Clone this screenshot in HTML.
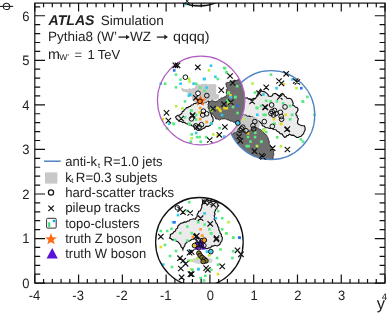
<!DOCTYPE html>
<html><head><meta charset="utf-8">
<style>
html,body{margin:0;padding:0;background:#fff;width:388px;height:313px;overflow:hidden}
svg{display:block;will-change:transform}
text{font-family:"Liberation Sans",sans-serif;fill:#222;text-rendering:geometricPrecision}
</style></head><body>
<svg width="388" height="313" viewBox="0 0 388 313">
<defs>
<clipPath id="pa"><rect x="34.8" y="3.1" width="350.2" height="280"/></clipPath>
<clipPath id="cpur"><ellipse cx="201.1" cy="100.5" rx="43.7" ry="44.4" /></clipPath>
<clipPath id="cblu"><ellipse cx="271.0" cy="115.1" rx="43.8" ry="44.5" /></clipPath>
<mask id="mnotpur"><rect x="0" y="0" width="388" height="313" fill="#fff"/><ellipse cx="201.1" cy="100.5" rx="43.7" ry="44.4" fill="#000"/></mask>
</defs>
<g clip-path="url(#pa)">
<path d="M175.6,116.9L177.6,115.3L179.3,115.2L180.7,114.3L181.9,113.3L182.3,111.7L183.7,111.0L184.3,109.6L185.7,108.9L186.4,107.6L187.9,107.6L189.0,106.6L190.5,106.2L191.5,105.0L193.1,104.7L194.1,103.5L195.7,103.5L197.0,102.5L198.5,103.2L200.4,103.0L202.0,104.0L203.8,102.7L206.0,102.4L206.9,101.2L208.3,100.8L208.9,102.6L208.4,104.6L209.1,106.4L208.8,108.4L210.3,110.0L210.0,112.0L211.3,113.8L211.5,116.0L212.8,117.3L213.1,119.1L213.1,120.8L212.3,122.3L211.5,124.2L210.0,125.5L208.1,126.4L206.0,126.3L204.6,127.9L202.7,128.7L200.9,129.9L198.8,130.3L196.9,130.0L195.6,128.7L194.4,127.8L194.0,126.3L192.1,126.0L190.8,124.7L189.1,124.8L187.6,123.9L185.8,123.5L184.4,122.3L182.7,122.5L181.2,121.5L179.4,121.2L178.0,120.0L176.4,118.8Z" fill="#ebebeb" stroke="#111" stroke-width="1.15"/>
<path d="M202.6,201.4L204.2,200.1L206.2,199.9L207.8,199.7L209.1,200.8L210.7,200.5L212.8,201.5L215.1,201.4L216.2,202.6L217.8,203.2L217.7,204.7L218.7,205.8L217.3,206.8L216.9,208.5L215.6,209.6L215.1,211.2L214.4,212.6L215.1,214.3L214.2,215.7L214.6,217.5L214.2,219.3L215.5,220.9L216.0,222.9L217.3,224.4L217.8,226.4L218.8,227.7L218.7,229.5L219.6,230.9L220.1,232.9L221.4,234.5L221.3,236.1L222.4,237.4L222.3,239.0L221.8,241.0L220.5,242.6L219.9,244.1L218.7,245.2L217.0,246.0L215.0,245.3L213.3,246.1L211.6,246.1L210.6,247.8L208.9,247.9L207.0,248.7L204.9,248.1L203.0,249.0L202.4,247.1L200.4,246.2L200.1,244.1L198.1,243.2L197.8,241.2L196.3,239.9L195.1,238.9L193.6,239.0L191.6,239.5L190.1,240.8L188.1,241.4L186.5,242.6L185.1,244.1L184.7,246.1L183.4,247.7L182.9,249.7L182.4,248.1L181.1,247.0L180.6,245.0L179.3,243.4L177.8,241.7L175.7,240.8L174.1,239.9L172.2,239.9L171.1,238.6L169.5,238.1L170.3,236.4L170.4,234.5L172.6,233.6L174.0,231.8L175.5,230.9L176.0,229.1L177.5,228.2L177.9,226.1L179.3,224.6L180.9,223.3L182.9,222.9L184.2,221.9L186.1,222.1L187.4,221.1L189.1,221.0L190.2,219.5L191.9,219.3L193.7,218.8L195.4,219.3L196.0,217.7L197.2,216.6L197.1,214.7L198.1,213.0L198.6,211.5L200.3,210.9L200.8,209.4L201.7,207.7L201.7,205.8L202.5,203.7Z" fill="#ebebeb" stroke="#111" stroke-width="1.15"/>
<path d="M238.0,98.0L239.9,97.6L241.8,98.5L243.8,97.6L245.7,98.0L247.3,97.9L248.7,99.1L250.3,99.1L252.1,99.3L253.7,98.3L255.5,98.6L256.5,96.8L258.0,95.5L258.0,93.3L259.1,91.3L260.6,89.3L262.2,91.3L264.7,91.9L266.8,93.4L268.0,94.5L268.4,96.0L270.9,96.5L272.4,95.6L273.0,93.9L275.6,93.4L277.6,95.0L280.0,96.0L280.7,94.4L282.2,93.5L283.8,94.5L284.6,96.2L286.1,97.0L287.0,98.5L288.9,98.3L290.8,98.8L292.1,100.2L292.7,102.0L293.2,103.6L292.7,105.2L294.3,105.7L295.3,107.1L296.7,107.4L297.8,108.4L298.0,110.1L297.2,111.6L295.9,113.5L296.1,115.0L297.2,116.1L297.3,117.6L298.4,118.6L297.8,120.5L297.4,122.9L298.5,124.3L300.2,125.0L302.2,125.7L304.4,125.7L305.1,127.9L305.1,130.0L304.0,132.1L303.6,133.8L302.3,134.9L301.1,136.2L299.5,136.7L298.2,137.5L296.7,137.4L294.6,136.0L293.3,135.1L291.7,135.3L289.3,134.2L288.3,135.4L286.8,135.6L286.0,136.9L284.5,137.4L282.9,135.4L282.0,133.9L280.1,133.6L279.1,132.2L277.2,131.4L275.9,129.7L273.8,129.5L272.0,128.4L269.7,128.5L267.6,127.8L265.6,127.6L264.2,126.3L262.4,125.7L261.8,123.9L260.4,122.5L259.0,121.2L257.3,120.6L256.0,119.2L254.1,118.6L253.1,117.2L251.5,116.7L249.0,116.1L247.1,116.3L245.5,115.1L243.6,115.2L241.9,114.2L239.8,114.8L238.0,114.0L237.6,112.2L238.4,110.4L237.5,108.7L238.5,106.9L237.6,105.1L238.4,103.3L237.5,101.6L238.4,99.8Z" fill="#ebebeb" stroke="#111" stroke-width="1.15" mask="url(#mnotpur)"/>
<ellipse cx="199.4" cy="-38.5" rx="43.8" ry="44.5" fill="#d6d6d6" stroke="none"/>
<path d="M181.0,88.5L182.7,88.1L184.3,89.3L186.0,89.0L187.8,89.3L189.5,88.1L191.3,89.1L193.0,87.9L194.8,88.2L195.1,86.2L196.2,84.5L198.1,83.9L200.1,84.7L202.0,83.7L204.0,84.0L206.0,83.7L208.0,84.6L210.0,83.9L212.0,84.3L214.1,84.0L216.0,84.8L216.6,86.6L215.8,88.4L216.7,90.1L215.9,91.9L216.5,93.7L217.8,94.6L219.3,94.4L218.9,96.6L219.3,98.8L217.4,98.8L215.8,100.2L213.7,99.6L212.0,100.5L210.1,100.2L208.3,100.8L206.9,101.3L206.0,102.4L203.8,102.7L202.0,104.0L200.1,103.1L198.0,103.2L196.4,102.3L194.5,102.5L193.7,100.6L192.0,99.3L192.0,97.6L191.0,96.2L189.7,94.4L187.9,93.2L186.0,92.1L183.8,92.1L181.7,90.5Z" fill="#c8c8c8"/>
<g mask="url(#mnotpur)"><path d="M236.0,113.0L238.0,113.2L239.7,114.5L241.9,114.1L243.6,115.2L245.3,115.3L246.7,116.6L248.5,116.5L249.9,117.2L251.5,116.4L253.0,117.0L254.9,117.2L256.6,118.3L258.0,119.3L258.4,121.0L259.5,122.3L259.5,124.0L259.9,125.6L258.9,127.2L259.5,128.8L258.2,128.8L256.7,128.6L255.6,127.6L254.5,128.7L253.0,128.8L251.7,130.3L249.8,130.8L248.5,132.2L246.6,132.7L244.5,132.2L242.8,130.8L240.9,131.7L238.9,131.4L237.5,132.6L235.7,132.7L234.3,133.6L232.6,133.2L231.2,134.0L229.3,134.2L227.9,135.7L226.0,136.0L225.7,134.2L226.8,132.5L226.1,130.6L227.4,128.9L226.6,127.1L227.8,125.4L227.0,123.5L228.4,121.8L228.0,120.0L229.6,119.2L230.3,117.3L232.3,116.8L233.0,115.0L235.0,114.5Z" fill="#c8c8c8" clip-path="url(#cblu)"/></g>
<path d="M192.3,259.0L197.0,257.2L203.0,257.5L209.0,257.8L213.0,259.5L212.0,262.5L206.0,263.8L198.0,264.0L193.0,262.5Z" fill="#d4d4d4"/>
<path d="M225.7,83.6L227.1,82.5L228.8,82.4L230.6,81.3L232.7,81.1L234.3,80.2L236.2,80.6L237.8,79.8L239.4,79.7L240.4,78.1L242.0,78.0L243.8,77.9L245.3,79.0L247.1,78.5L248.6,79.8L250.4,79.3L252.0,80.0L252.6,81.8L251.5,83.6L252.5,85.4L251.6,87.2L252.4,89.0L251.5,90.8L252.4,92.6L251.6,94.4L252.4,96.2L251.6,98.0L252.5,99.8L251.5,101.6L252.6,103.4L251.5,105.2L252.5,107.0L251.5,108.8L252.5,110.6L251.5,112.4L252.4,114.2L251.4,116.0L252.6,117.8L251.4,119.6L252.5,121.4L251.6,123.2L252.0,125.0L250.4,123.9L248.4,123.8L247.0,122.3L244.8,122.4L243.5,120.7L241.5,120.5L239.3,120.5L237.4,121.8L234.8,122.4L233.4,122.2L232.3,121.2L230.2,121.0L228.4,119.9L226.9,119.8L225.8,118.8L223.2,118.9L221.1,119.0L219.4,120.1L217.6,119.1L215.6,118.9L215.1,117.0L213.6,115.7L212.6,114.4L211.1,113.8L210.5,112.0L209.2,110.6L209.1,108.8L207.9,107.4L208.4,105.8L207.9,104.2L208.9,103.1L209.2,101.6L210.9,101.3L212.4,100.3L213.9,101.3L215.6,101.6L217.4,101.0L218.8,99.7L220.4,99.2L221.3,97.8L222.9,98.0L224.2,96.8L225.8,97.1L226.0,95.6L227.1,94.6L226.2,93.1L226.4,91.4L226.4,89.5L227.6,88.1L226.6,87.0L226.3,85.6Z" fill="#6e6e6e" stroke="#222" stroke-width="0.8" clip-path="url(#cpur)"/>
<g mask="url(#mnotpur)"><path d="M226.0,136.0L227.5,134.9L229.7,135.2L231.2,134.0L232.8,133.9L234.1,132.7L235.7,132.7L237.1,131.5L238.9,131.4L240.8,130.6L242.8,130.8L244.9,131.3L246.6,132.7L248.0,131.3L249.8,130.8L251.1,129.3L253.0,128.8L254.1,127.7L255.6,127.6L257.1,127.7L258.2,128.8L260.3,129.4L262.0,130.8L263.6,132.2L264.7,134.0L266.4,134.9L267.2,136.6L268.2,138.1L268.5,139.8L269.4,141.6L269.2,143.7L269.9,144.7L270.8,146.2L272.3,147.1L272.6,148.9L273.9,150.3L273.4,152.3L273.9,154.3L273.1,156.2L273.1,158.3L272.6,160.2L273.5,162.0L272.6,163.9L273.5,165.7L272.6,167.6L273.4,169.4L272.5,171.3L273.6,173.1L273.0,175.0L271.2,175.5L269.4,174.6L267.6,175.4L265.8,174.5L263.9,175.5L262.1,174.6L260.3,175.4L258.5,174.6L256.7,175.5L254.9,174.4L253.1,175.5L251.2,174.6L249.4,175.6L247.6,174.5L245.8,175.5L244.0,174.6L242.2,175.5L240.4,174.5L238.6,175.5L236.8,174.6L234.9,175.5L233.1,174.6L231.3,175.5L229.5,174.6L227.7,175.4L225.9,174.6L224.1,175.5L222.2,174.6L220.4,175.5L218.6,174.6L216.8,175.4L215.0,175.0L214.4,173.2L215.5,171.3L214.4,169.5L215.4,167.6L214.4,165.8L215.4,163.9L214.6,162.1L215.5,160.3L214.4,158.4L215.4,156.6L214.6,154.7L215.5,152.9L214.6,151.1L215.4,149.2L214.6,147.4L215.4,145.5L214.5,143.7L215.6,141.8L215.0,140.0L216.7,139.9L218.0,138.5L219.9,138.7L221.1,137.2L223.0,137.7L224.3,136.1Z" fill="#6e6e6e" stroke="#222" stroke-width="0.8" clip-path="url(#cblu)"/></g>
<rect x="172.9" y="69.1" width="2.6" height="2.6" fill="#2a6ee8"/>
<rect x="174.7" y="73.3" width="2.6" height="2.6" fill="#58ea80"/>
<rect x="179.3" y="78.3" width="2.6" height="2.6" fill="#58ea80"/>
<rect x="159.5" y="82.4" width="2.6" height="2.6" fill="#30c8f0"/>
<rect x="163.9" y="82.4" width="2.6" height="2.6" fill="#58ea80"/>
<rect x="179.3" y="82.4" width="2.6" height="2.6" fill="#30c8f0"/>
<rect x="174.7" y="86.0" width="2.6" height="2.6" fill="#58ea80"/>
<rect x="187.9" y="77.7" width="2.6" height="2.6" fill="#b8f040"/>
<rect x="188.2" y="80.2" width="2.6" height="2.6" fill="#b8f040"/>
<rect x="192.3" y="82.4" width="2.6" height="2.6" fill="#30c8f0"/>
<rect x="194.8" y="82.4" width="2.6" height="2.6" fill="#58ea80"/>
<rect x="202.7" y="77.7" width="2.6" height="2.6" fill="#30c8f0"/>
<rect x="188.2" y="93.7" width="2.6" height="2.6" fill="#30c8f0"/>
<rect x="209.7" y="64.4" width="2.6" height="2.6" fill="#30c8f0"/>
<rect x="207.7" y="69.1" width="2.6" height="2.6" fill="#b8f040"/>
<rect x="222.9" y="66.6" width="2.6" height="2.6" fill="#58ea80"/>
<rect x="225.3" y="71.1" width="2.6" height="2.6" fill="#58ea80"/>
<rect x="214.1" y="75.5" width="2.6" height="2.6" fill="#30c8f0"/>
<rect x="216.5" y="77.7" width="2.6" height="2.6" fill="#58ea80"/>
<rect x="203.3" y="77.7" width="2.6" height="2.6" fill="#30c8f0"/>
<rect x="235.8" y="84.9" width="2.6" height="2.6" fill="#58ea80"/>
<rect x="227.5" y="91.3" width="2.6" height="2.6" fill="#b8f040"/>
<rect x="229.2" y="94.0" width="2.6" height="2.6" fill="#e8d820"/>
<rect x="233.9" y="95.8" width="2.6" height="2.6" fill="#58ea80"/>
<rect x="229.5" y="95.8" width="2.6" height="2.6" fill="#30c8f0"/>
<rect x="225.0" y="70.8" width="2.6" height="2.6" fill="#58ea80"/>
<rect x="223.7" y="67.0" width="2.6" height="2.6" fill="#58ea80"/>
<rect x="198.9" y="86.3" width="2.6" height="2.6" fill="#58ea80"/>
<rect x="205.3" y="86.3" width="2.6" height="2.6" fill="#30c8f0"/>
<rect x="203.4" y="89.5" width="2.6" height="2.6" fill="#58ea80"/>
<rect x="188.7" y="93.3" width="2.6" height="2.6" fill="#30c8f0"/>
<rect x="190.0" y="109.3" width="2.6" height="2.6" fill="#58ea80"/>
<rect x="194.8" y="113.7" width="2.6" height="2.6" fill="#58ea80"/>
<rect x="194.8" y="118.2" width="2.6" height="2.6" fill="#58ea80"/>
<rect x="198.3" y="111.2" width="2.6" height="2.6" fill="#e8d820"/>
<rect x="198.9" y="106.7" width="2.6" height="2.6" fill="#ff9a2a"/>
<rect x="198.9" y="117.9" width="2.6" height="2.6" fill="#ff9a2a"/>
<rect x="205.3" y="120.7" width="2.6" height="2.6" fill="#ff9a2a"/>
<rect x="209.8" y="122.0" width="2.6" height="2.6" fill="#58ea80"/>
<rect x="209.8" y="108.7" width="2.6" height="2.6" fill="#58ea80"/>
<rect x="216.1" y="106.6" width="2.6" height="2.6" fill="#e8d820"/>
<rect x="218.1" y="108.1" width="2.6" height="2.6" fill="#e8d820"/>
<rect x="219.2" y="109.7" width="2.6" height="2.6" fill="#e8d820"/>
<rect x="223.2" y="106.9" width="2.6" height="2.6" fill="#e8d820"/>
<rect x="225.5" y="106.9" width="2.6" height="2.6" fill="#e8d820"/>
<rect x="227.4" y="101.9" width="2.6" height="2.6" fill="#e8d820"/>
<rect x="225.9" y="99.4" width="2.6" height="2.6" fill="#58ea80"/>
<rect x="236.2" y="104.5" width="2.6" height="2.6" fill="#2a6ee8"/>
<rect x="236.2" y="111.7" width="2.6" height="2.6" fill="#58ea80"/>
<rect x="234.1" y="95.8" width="2.6" height="2.6" fill="#58ea80"/>
<rect x="209.9" y="109.2" width="2.6" height="2.6" fill="#b8f040"/>
<rect x="220.7" y="113.7" width="2.6" height="2.6" fill="#30c8f0"/>
<rect x="227.0" y="100.3" width="2.6" height="2.6" fill="#58ea80"/>
<rect x="227.0" y="92.0" width="2.6" height="2.6" fill="#58ea80"/>
<rect x="231.7" y="105.7" width="2.6" height="2.6" fill="#58ea80"/>
<rect x="161.6" y="118.0" width="2.6" height="2.6" fill="#e8d820"/>
<rect x="167.8" y="122.5" width="2.6" height="2.6" fill="#30c8f0"/>
<rect x="172.6" y="122.8" width="2.6" height="2.6" fill="#58ea80"/>
<rect x="165.8" y="127.2" width="2.6" height="2.6" fill="#58ea80"/>
<rect x="174.8" y="104.9" width="2.6" height="2.6" fill="#b8f040"/>
<rect x="183.7" y="100.1" width="2.6" height="2.6" fill="#58ea80"/>
<rect x="181.2" y="107.1" width="2.6" height="2.6" fill="#b8f040"/>
<rect x="190.1" y="109.0" width="2.6" height="2.6" fill="#58ea80"/>
<rect x="183.7" y="116.1" width="2.6" height="2.6" fill="#58ea80"/>
<rect x="188.2" y="122.5" width="2.6" height="2.6" fill="#58ea80"/>
<rect x="187.6" y="94.3" width="2.6" height="2.6" fill="#30c8f0"/>
<rect x="172.3" y="122.3" width="2.6" height="2.6" fill="#58ea80"/>
<rect x="187.7" y="122.7" width="2.6" height="2.6" fill="#58ea80"/>
<rect x="210.2" y="122.3" width="2.6" height="2.6" fill="#30c8f0"/>
<rect x="218.3" y="126.8" width="2.6" height="2.6" fill="#58ea80"/>
<rect x="190.4" y="133.1" width="2.6" height="2.6" fill="#58ea80"/>
<rect x="194.9" y="131.7" width="2.6" height="2.6" fill="#30c8f0"/>
<rect x="195.7" y="135.8" width="2.6" height="2.6" fill="#58ea80"/>
<rect x="198.3" y="135.8" width="2.6" height="2.6" fill="#58ea80"/>
<rect x="190.4" y="137.0" width="2.6" height="2.6" fill="#b8f040"/>
<rect x="204.8" y="135.8" width="2.6" height="2.6" fill="#58ea80"/>
<rect x="212.0" y="133.1" width="2.6" height="2.6" fill="#b8f040"/>
<rect x="216.5" y="134.0" width="2.6" height="2.6" fill="#e8d820"/>
<rect x="222.9" y="135.3" width="2.6" height="2.6" fill="#30c8f0"/>
<rect x="189.5" y="140.4" width="2.6" height="2.6" fill="#58ea80"/>
<rect x="199.4" y="140.4" width="2.6" height="2.6" fill="#58ea80"/>
<rect x="251.2" y="82.3" width="2.6" height="2.6" fill="#b8f040"/>
<rect x="253.7" y="91.3" width="2.6" height="2.6" fill="#58ea80"/>
<rect x="262.0" y="93.2" width="2.6" height="2.6" fill="#30c8f0"/>
<rect x="269.7" y="73.3" width="2.6" height="2.6" fill="#58ea80"/>
<rect x="275.3" y="86.9" width="2.6" height="2.6" fill="#30c8f0"/>
<rect x="282.5" y="82.9" width="2.6" height="2.6" fill="#e8d820"/>
<rect x="291.2" y="78.1" width="2.6" height="2.6" fill="#30c8f0"/>
<rect x="300.0" y="86.9" width="2.6" height="2.6" fill="#2a6ee8"/>
<rect x="295.2" y="86.9" width="2.6" height="2.6" fill="#b8f040"/>
<rect x="301.6" y="100.4" width="2.6" height="2.6" fill="#58ea80"/>
<rect x="256.1" y="106.8" width="2.6" height="2.6" fill="#58ea80"/>
<rect x="264.9" y="99.5" width="2.6" height="2.6" fill="#58ea80"/>
<rect x="269.4" y="100.1" width="2.6" height="2.6" fill="#58ea80"/>
<rect x="275.7" y="100.1" width="2.6" height="2.6" fill="#58ea80"/>
<rect x="259.8" y="104.6" width="2.6" height="2.6" fill="#58ea80"/>
<rect x="255.3" y="106.5" width="2.6" height="2.6" fill="#58ea80"/>
<rect x="256.0" y="113.5" width="2.6" height="2.6" fill="#30c8f0"/>
<rect x="262.3" y="113.5" width="2.6" height="2.6" fill="#58ea80"/>
<rect x="264.3" y="113.5" width="2.6" height="2.6" fill="#58ea80"/>
<rect x="272.6" y="118.0" width="2.6" height="2.6" fill="#e8d820"/>
<rect x="242.5" y="118.0" width="2.6" height="2.6" fill="#b8f040"/>
<rect x="273.2" y="122.5" width="2.6" height="2.6" fill="#58ea80"/>
<rect x="262.3" y="128.2" width="2.6" height="2.6" fill="#58ea80"/>
<rect x="254.0" y="131.4" width="2.6" height="2.6" fill="#58ea80"/>
<rect x="264.9" y="130.8" width="2.6" height="2.6" fill="#58ea80"/>
<rect x="306.1" y="95.6" width="2.6" height="2.6" fill="#58ea80"/>
<rect x="301.6" y="100.1" width="2.6" height="2.6" fill="#58ea80"/>
<rect x="313.1" y="113.5" width="2.6" height="2.6" fill="#58ea80"/>
<rect x="290.8" y="113.5" width="2.6" height="2.6" fill="#58ea80"/>
<rect x="288.8" y="118.0" width="2.6" height="2.6" fill="#58ea80"/>
<rect x="284.4" y="113.5" width="2.6" height="2.6" fill="#e8d820"/>
<rect x="279.9" y="122.5" width="2.6" height="2.6" fill="#e8d820"/>
<rect x="288.8" y="104.6" width="2.6" height="2.6" fill="#58ea80"/>
<rect x="281.8" y="102.0" width="2.6" height="2.6" fill="#58ea80"/>
<rect x="299.6" y="138.1" width="2.6" height="2.6" fill="#58ea80"/>
<rect x="301.7" y="140.3" width="2.6" height="2.6" fill="#58ea80"/>
<rect x="246.7" y="135.8" width="2.6" height="2.6" fill="#58ea80"/>
<rect x="253.7" y="135.8" width="2.6" height="2.6" fill="#58ea80"/>
<rect x="249.3" y="140.3" width="2.6" height="2.6" fill="#58ea80"/>
<rect x="260.1" y="140.3" width="2.6" height="2.6" fill="#58ea80"/>
<rect x="245.4" y="144.8" width="2.6" height="2.6" fill="#58ea80"/>
<rect x="247.3" y="144.8" width="2.6" height="2.6" fill="#58ea80"/>
<rect x="255.7" y="144.8" width="2.6" height="2.6" fill="#b8f040"/>
<rect x="262.7" y="128.8" width="2.6" height="2.6" fill="#b8f040"/>
<rect x="246.7" y="132.0" width="2.6" height="2.6" fill="#e8d820"/>
<rect x="275.9" y="136.0" width="2.6" height="2.6" fill="#58ea80"/>
<rect x="279.7" y="145.0" width="2.6" height="2.6" fill="#b8f040"/>
<rect x="273.3" y="122.6" width="2.6" height="2.6" fill="#58ea80"/>
<rect x="279.7" y="122.6" width="2.6" height="2.6" fill="#e8d820"/>
<rect x="259.9" y="140.5" width="2.6" height="2.6" fill="#58ea80"/>
<rect x="262.5" y="129.0" width="2.6" height="2.6" fill="#b8f040"/>
<rect x="187.9" y="200.9" width="2.6" height="2.6" fill="#58ea80"/>
<rect x="186.0" y="209.5" width="2.6" height="2.6" fill="#58ea80"/>
<rect x="176.7" y="213.8" width="2.6" height="2.6" fill="#30c8f0"/>
<rect x="171.7" y="221.0" width="2.6" height="2.6" fill="#30c8f0"/>
<rect x="173.2" y="221.0" width="2.6" height="2.6" fill="#2a6ee8"/>
<rect x="170.2" y="227.5" width="2.6" height="2.6" fill="#58ea80"/>
<rect x="165.9" y="229.7" width="2.6" height="2.6" fill="#58ea80"/>
<rect x="159.5" y="229.7" width="2.6" height="2.6" fill="#58ea80"/>
<rect x="178.9" y="231.8" width="2.6" height="2.6" fill="#58ea80"/>
<rect x="186.0" y="225.3" width="2.6" height="2.6" fill="#58ea80"/>
<rect x="190.4" y="231.8" width="2.6" height="2.6" fill="#58ea80"/>
<rect x="196.8" y="220.3" width="2.6" height="2.6" fill="#58ea80"/>
<rect x="203.3" y="212.1" width="2.6" height="2.6" fill="#30c8f0"/>
<rect x="216.9" y="209.7" width="2.6" height="2.6" fill="#58ea80"/>
<rect x="214.5" y="216.9" width="2.6" height="2.6" fill="#30c8f0"/>
<rect x="220.9" y="216.9" width="2.6" height="2.6" fill="#58ea80"/>
<rect x="227.2" y="220.9" width="2.6" height="2.6" fill="#b8f040"/>
<rect x="196.9" y="220.9" width="2.6" height="2.6" fill="#58ea80"/>
<rect x="203.3" y="223.3" width="2.6" height="2.6" fill="#58ea80"/>
<rect x="199.3" y="228.0" width="2.6" height="2.6" fill="#ff9a2a"/>
<rect x="208.1" y="228.0" width="2.6" height="2.6" fill="#58ea80"/>
<rect x="220.9" y="228.0" width="2.6" height="2.6" fill="#58ea80"/>
<rect x="209.7" y="232.0" width="2.6" height="2.6" fill="#58ea80"/>
<rect x="224.9" y="232.0" width="2.6" height="2.6" fill="#b8f040"/>
<rect x="232.0" y="236.5" width="2.6" height="2.6" fill="#58ea80"/>
<rect x="238.4" y="236.5" width="2.6" height="2.6" fill="#2a6ee8"/>
<rect x="200.9" y="234.4" width="2.6" height="2.6" fill="#ff9a2a"/>
<rect x="159.5" y="245.7" width="2.6" height="2.6" fill="#e8d820"/>
<rect x="174.7" y="249.7" width="2.6" height="2.6" fill="#58ea80"/>
<rect x="188.3" y="249.7" width="2.6" height="2.6" fill="#30c8f0"/>
<rect x="185.9" y="239.3" width="2.6" height="2.6" fill="#58ea80"/>
<rect x="161.9" y="263.3" width="2.6" height="2.6" fill="#30c8f0"/>
<rect x="170.7" y="265.7" width="2.6" height="2.6" fill="#58ea80"/>
<rect x="187.5" y="259.3" width="2.6" height="2.6" fill="#58ea80"/>
<rect x="189.9" y="268.0" width="2.6" height="2.6" fill="#b8f040"/>
<rect x="197.0" y="268.0" width="2.6" height="2.6" fill="#30c8f0"/>
<rect x="199.4" y="276.8" width="2.6" height="2.6" fill="#58ea80"/>
<rect x="202.7" y="279.2" width="2.6" height="2.6" fill="#58ea80"/>
<rect x="209.9" y="232.1" width="2.6" height="2.6" fill="#58ea80"/>
<rect x="225.1" y="232.1" width="2.6" height="2.6" fill="#58ea80"/>
<rect x="237.9" y="236.3" width="2.6" height="2.6" fill="#2a6ee8"/>
<rect x="231.9" y="236.3" width="2.6" height="2.6" fill="#58ea80"/>
<rect x="219.2" y="248.2" width="2.6" height="2.6" fill="#58ea80"/>
<rect x="231.9" y="249.9" width="2.6" height="2.6" fill="#58ea80"/>
<rect x="231.1" y="256.7" width="2.6" height="2.6" fill="#58ea80"/>
<rect x="215.8" y="256.7" width="2.6" height="2.6" fill="#58ea80"/>
<rect x="216.7" y="263.4" width="2.6" height="2.6" fill="#58ea80"/>
<rect x="190.4" y="259.2" width="2.6" height="2.6" fill="#b8f040"/>
<rect x="197.2" y="267.7" width="2.6" height="2.6" fill="#30c8f0"/>
<rect x="209.9" y="268.5" width="2.6" height="2.6" fill="#58ea80"/>
<rect x="216.7" y="272.8" width="2.6" height="2.6" fill="#e8d820"/>
<rect x="204.0" y="274.5" width="2.6" height="2.6" fill="#58ea80"/>
<rect x="191.2" y="268.5" width="2.6" height="2.6" fill="#58ea80"/>
<rect x="163.7" y="243.7" width="2.6" height="2.6" fill="#58ea80"/>
<rect x="168.7" y="254.7" width="2.6" height="2.6" fill="#58ea80"/>
<rect x="173.7" y="238.7" width="2.6" height="2.6" fill="#58ea80"/>
<rect x="191.6" y="235.6" width="2.6" height="2.6" fill="#ff9a2a"/>
<rect x="200.8" y="234.5" width="2.6" height="2.6" fill="#ff9a2a"/>
<rect x="205.7" y="250.3" width="2.6" height="2.6" fill="#30c8f0"/>
<rect x="196.5" y="256.8" width="2.6" height="2.6" fill="#b8f040"/>
<rect x="207.9" y="254.1" width="2.6" height="2.6" fill="#b8f040"/>
<ellipse cx="271.0" cy="115.1" rx="43.8" ry="44.5" fill="none" stroke="#4f84c4" stroke-width="1.3" mask="url(#mnotpur)"/>
<ellipse cx="201.1" cy="100.5" rx="43.7" ry="44.4" fill="none" stroke="#b05ec0" stroke-width="1.3"/>
<ellipse cx="199.4" cy="242.0" rx="43.8" ry="44.5" fill="none" stroke="#111" stroke-width="1.3"/>
<ellipse cx="199.4" cy="-38.5" rx="43.8" ry="44.5" fill="none" stroke="#111" stroke-width="1.3"/>
<path d="M200.50,94.90L202.03,98.80L206.21,99.05L202.97,101.70L204.03,105.75L200.50,103.50L196.97,105.75L198.03,101.70L194.79,99.05L198.97,98.80Z" fill="#ff6a13"/>
<path d="M199.0 244.2L201.4 248.8L196.6 248.8ZM202.2 241.7L204.6 246.3L199.8 246.3ZM197.5 240.5L199.9 245.1L195.1 245.1ZM200.5 238.5L202.9 243.1L198.1 243.1ZM203.5 244.9L205.9 249.5L201.1 249.5ZM196.5 245.2L198.9 249.8L194.1 249.8ZM200.3 241.2L202.7 245.8L197.9 245.8Z" fill="#5a12d6"/>
<circle cx="185.4" cy="77.2" r="2.35" fill="none" stroke="#111" stroke-width="1"/>
<circle cx="198" cy="93.3" r="2.35" fill="#fff" stroke="#111" stroke-width="1"/>
<circle cx="206.8" cy="95.6" r="2.35" fill="none" stroke="#111" stroke-width="1"/>
<circle cx="199.9" cy="101.3" r="2.35" fill="#ff7a1a" stroke="#111" stroke-width="1"/>
<circle cx="203.4" cy="111.2" r="2.35" fill="none" stroke="#111" stroke-width="1"/>
<circle cx="206.6" cy="113.8" r="2.35" fill="none" stroke="#111" stroke-width="1"/>
<circle cx="202.8" cy="115" r="2.35" fill="none" stroke="#111" stroke-width="1"/>
<circle cx="191.5" cy="118.8" r="2.35" fill="none" stroke="#111" stroke-width="1"/>
<circle cx="195.8" cy="125.9" r="2.35" fill="none" stroke="#111" stroke-width="1"/>
<circle cx="199.1" cy="127" r="2.35" fill="none" stroke="#111" stroke-width="1"/>
<circle cx="201.4" cy="124.7" r="2.35" fill="none" stroke="#111" stroke-width="1"/>
<circle cx="271.6" cy="105" r="2.35" fill="none" stroke="#111" stroke-width="1"/>
<circle cx="285" cy="106.9" r="2.35" fill="none" stroke="#111" stroke-width="1"/>
<circle cx="272" cy="111.5" r="2.35" fill="none" stroke="#111" stroke-width="1"/>
<circle cx="274.5" cy="110.5" r="2.35" fill="none" stroke="#111" stroke-width="1"/>
<circle cx="276" cy="113.5" r="2.35" fill="none" stroke="#111" stroke-width="1"/>
<circle cx="273.5" cy="115" r="2.35" fill="none" stroke="#111" stroke-width="1"/>
<circle cx="271" cy="113.5" r="2.35" fill="none" stroke="#111" stroke-width="1"/>
<circle cx="280.4" cy="112.3" r="2.35" fill="none" stroke="#111" stroke-width="1"/>
<circle cx="281.2" cy="116.5" r="2.35" fill="none" stroke="#111" stroke-width="1"/>
<circle cx="281.6" cy="119.2" r="2.35" fill="none" stroke="#111" stroke-width="1"/>
<circle cx="254.8" cy="121.6" r="2.35" fill="none" stroke="#111" stroke-width="1"/>
<circle cx="264.3" cy="121.6" r="2.35" fill="none" stroke="#111" stroke-width="1"/>
<circle cx="272.3" cy="126.4" r="2.35" fill="none" stroke="#111" stroke-width="1"/>
<circle cx="253" cy="125.6" r="2.35" fill="none" stroke="#111" stroke-width="1"/>
<circle cx="253.7" cy="128.8" r="2.35" fill="none" stroke="#111" stroke-width="1"/>
<circle cx="237.8" cy="123" r="2.35" fill="#40d0f0" stroke="#111" stroke-width="1"/>
<circle cx="241.5" cy="128.8" r="2.35" fill="none" stroke="#111" stroke-width="1"/>
<circle cx="242.8" cy="127.2" r="2.35" fill="none" stroke="#111" stroke-width="1"/>
<circle cx="240.2" cy="130.3" r="2.35" fill="none" stroke="#111" stroke-width="1"/>
<circle cx="246" cy="130.8" r="2.35" fill="none" stroke="#111" stroke-width="1"/>
<circle cx="198.3" cy="240.2" r="2.35" fill="none" stroke="#111" stroke-width="1"/>
<circle cx="202.1" cy="240.7" r="2.35" fill="none" stroke="#111" stroke-width="1"/>
<circle cx="196.7" cy="244.5" r="2.35" fill="none" stroke="#111" stroke-width="1"/>
<circle cx="201" cy="245" r="2.35" fill="none" stroke="#111" stroke-width="1"/>
<circle cx="198.9" cy="247.6" r="2.35" fill="none" stroke="#111" stroke-width="1"/>
<circle cx="203.8" cy="245.6" r="2.35" fill="none" stroke="#111" stroke-width="1"/>
<circle cx="194.5" cy="245.6" r="2.35" fill="#e0c030" stroke="#111" stroke-width="1"/>
<circle cx="204.3" cy="240.2" r="2.35" fill="#ff9a2a" stroke="#111" stroke-width="1"/>
<circle cx="198.9" cy="253.2" r="2.35" fill="#a08a30" stroke="#111" stroke-width="1"/>
<circle cx="200.2" cy="255.4" r="2.35" fill="#8a7428" stroke="#111" stroke-width="1"/>
<circle cx="202.1" cy="257.5" r="2.35" fill="#8a7428" stroke="#111" stroke-width="1"/>
<circle cx="204.3" cy="259.2" r="2.35" fill="#8a7428" stroke="#111" stroke-width="1"/>
<circle cx="205.9" cy="260.8" r="2.35" fill="#8a7428" stroke="#111" stroke-width="1"/>
<circle cx="203.2" cy="261.5" r="2.35" fill="#8a7428" stroke="#111" stroke-width="1"/>
<circle cx="210.8" cy="251.6" r="2.35" fill="#40d0f0" stroke="#111" stroke-width="1"/>
<circle cx="177.4" cy="207.8" r="2.35" fill="none" stroke="#111" stroke-width="1"/>
<path d="M172.6 62.6L178.0 68.0M178.0 62.6L172.6 68.0M174.8 62.6L180.2 68.0M180.2 62.6L174.8 68.0M195.1 64.6L200.5 70.0M200.5 64.6L195.1 70.0M227.4 73.3L232.8 78.7M232.8 73.3L227.4 78.7M230.0 80.3L235.4 85.7M235.4 80.3L230.0 85.7M218.6 87.4L224.0 92.8M224.0 87.4L218.6 92.8M193.1 95.1L198.5 100.5M198.5 95.1L193.1 100.5M221.2 101.5L226.6 106.9M226.6 101.5L221.2 106.9M228.1 99.5L233.5 104.9M233.5 99.5L228.1 104.9M210.3 105.9L215.7 111.3M215.7 105.9L210.3 111.3M163.8 110.2L169.2 115.6M169.2 110.2L163.8 115.6M165.7 117.9L171.1 123.3M171.1 117.9L165.7 123.3M178.5 115.9L183.9 121.3M183.9 115.9L178.5 121.3M189.7 113.1L195.1 118.5M195.1 113.1L189.7 118.5M189.9 112.3L195.3 117.7M195.3 112.3L189.9 117.7M194.2 124.3L199.6 129.7M199.6 124.3L194.2 129.7M207.0 137.3L212.4 142.7M212.4 137.3L207.0 142.7M216.6 132.1L222.0 137.5M222.0 132.1L216.6 137.5M222.2 124.3L227.6 129.7M227.6 124.3L222.2 129.7M283.5 71.1L288.9 76.5M288.9 71.1L283.5 76.5M276.3 78.3L281.7 83.7M281.7 78.3L276.3 83.7M278.7 80.7L284.1 86.1M284.1 80.7L278.7 86.1M293.0 78.3L298.4 83.7M298.4 78.3L293.0 83.7M294.6 79.3L300.0 84.7M300.0 79.3L294.6 84.7M263.5 84.7L268.9 90.1M268.9 84.7L263.5 90.1M256.4 90.5L261.8 95.9M261.8 90.5L256.4 95.9M277.1 94.3L282.5 99.7M282.5 94.3L277.1 99.7M262.7 104.6L268.1 110.0M268.1 104.6L262.7 110.0M249.4 98.7L254.8 104.1M254.8 98.7L249.4 104.1M262.2 104.4L267.6 109.8M267.6 104.4L262.2 109.8M284.3 126.8L289.7 132.2M289.7 126.8L284.3 132.2M284.7 126.3L290.1 131.7M290.1 126.3L284.7 131.7M270.0 145.5L275.4 150.9M275.4 145.5L270.0 150.9M284.7 146.8L290.1 152.2M290.1 146.8L284.7 152.2M259.1 153.2L264.5 158.6M264.5 153.2L259.1 158.6M260.3 154.3L265.7 159.7M265.7 154.3L260.3 159.7M236.4 133.8L241.8 139.2M241.8 133.8L236.4 139.2M237.6 138.1L243.0 143.5M243.0 138.1L237.6 143.5M251.7 148.5L257.1 153.9M257.1 148.5L251.7 153.9M177.4 206.7L182.8 212.1M182.8 206.7L177.4 212.1M180.3 209.5L185.7 214.9M185.7 209.5L180.3 214.9M187.5 210.3L192.9 215.7M192.9 210.3L187.5 215.7M158.1 234.0L163.5 239.4M163.5 234.0L158.1 239.4M193.3 234.0L198.7 239.4M198.7 234.0L193.3 239.4M201.9 199.5L207.3 204.9M207.3 199.5L201.9 204.9M206.7 200.3L212.1 205.7M212.1 200.3L206.7 205.7M210.7 201.9L216.1 207.3M216.1 201.9L210.7 207.3M197.9 215.5L203.3 220.9M203.3 215.5L197.9 220.9M207.5 221.1L212.9 226.5M212.9 221.1L207.5 226.5M213.9 235.4L219.3 240.8M219.3 235.4L213.9 240.8M194.1 233.2L199.5 238.6M199.5 233.2L194.1 238.6M213.6 236.6L219.0 242.0M219.0 236.6L213.6 242.0M189.0 249.3L194.4 254.7M194.4 249.3L189.0 254.7M177.3 255.5L182.7 260.9M182.7 255.5L177.3 260.9M180.5 257.9L185.9 263.3M185.9 257.9L180.5 263.3M182.9 261.1L188.3 266.5M188.3 261.1L182.9 266.5M178.1 265.8L183.5 271.2M183.5 265.8L178.1 271.2M187.7 271.4L193.1 276.8M193.1 271.4L187.7 276.8M178.9 274.6L184.3 280.0M184.3 274.6L178.9 280.0M186.9 249.9L192.3 255.3M192.3 249.9L186.9 255.3M203.4 265.4L208.8 270.8M208.8 265.4L203.4 270.8M205.1 267.1L210.5 272.5M210.5 267.1L205.1 272.5M219.5 263.7L224.9 269.1M224.9 263.7L219.5 269.1M234.8 247.6L240.2 253.0M240.2 247.6L234.8 253.0M238.3 251.6L243.7 257.0M243.7 251.6L238.3 257.0M189.0 271.4L194.4 276.8M194.4 271.4L189.0 276.8" stroke="#111" stroke-width="1.15" fill="none"/>
</g>
<path d="M184.5 -1.5L189.9 3.9M189.9 -1.5L184.5 3.9" stroke="#111" stroke-width="0.95"/>
<rect x="184.5" y="3.8" width="2" height="1.6" fill="#22c4f2"/>
<!-- frame -->
<g stroke="#111" stroke-width="1.2" fill="none">
<rect x="34.8" y="3.1" width="350.2" height="280"/>
<path d="M34.80 283.10V274.60M34.80 3.1V11.60M43.56 283.10V278.90M43.56 3.1V7.30M52.31 283.10V278.90M52.31 3.1V7.30M61.07 283.10V278.90M61.07 3.1V7.30M69.82 283.10V278.90M69.82 3.1V7.30M78.58 283.10V274.60M78.58 3.1V11.60M87.34 283.10V278.90M87.34 3.1V7.30M96.09 283.10V278.90M96.09 3.1V7.30M104.85 283.10V278.90M104.85 3.1V7.30M113.60 283.10V278.90M113.60 3.1V7.30M122.36 283.10V274.60M122.36 3.1V11.60M131.12 283.10V278.90M131.12 3.1V7.30M139.87 283.10V278.90M139.87 3.1V7.30M148.63 283.10V278.90M148.63 3.1V7.30M157.38 283.10V278.90M157.38 3.1V7.30M166.14 283.10V274.60M166.14 3.1V11.60M174.90 283.10V278.90M174.90 3.1V7.30M183.65 283.10V278.90M183.65 3.1V7.30M192.41 283.10V278.90M192.41 3.1V7.30M201.16 283.10V278.90M201.16 3.1V7.30M209.92 283.10V274.60M209.92 3.1V11.60M218.68 283.10V278.90M218.68 3.1V7.30M227.43 283.10V278.90M227.43 3.1V7.30M236.19 283.10V278.90M236.19 3.1V7.30M244.94 283.10V278.90M244.94 3.1V7.30M253.70 283.10V274.60M253.70 3.1V11.60M262.46 283.10V278.90M262.46 3.1V7.30M271.21 283.10V278.90M271.21 3.1V7.30M279.97 283.10V278.90M279.97 3.1V7.30M288.72 283.10V278.90M288.72 3.1V7.30M297.48 283.10V274.60M297.48 3.1V11.60M306.24 283.10V278.90M306.24 3.1V7.30M314.99 283.10V278.90M314.99 3.1V7.30M323.75 283.10V278.90M323.75 3.1V7.30M332.50 283.10V278.90M332.50 3.1V7.30M341.26 283.10V274.60M341.26 3.1V11.60M350.02 283.10V278.90M350.02 3.1V7.30M358.77 283.10V278.90M358.77 3.1V7.30M367.53 283.10V278.90M367.53 3.1V7.30M376.28 283.10V278.90M376.28 3.1V7.30M385.04 283.10V274.60M385.04 3.1V11.60M34.80 283.10H45.00M385 283.10H374.80M34.80 274.19H40.20M385 274.19H379.60M34.80 265.28H40.20M385 265.28H379.60M34.80 256.36H40.20M385 256.36H379.60M34.80 247.45H40.20M385 247.45H379.60M34.80 238.54H45.00M385 238.54H374.80M34.80 229.63H40.20M385 229.63H379.60M34.80 220.72H40.20M385 220.72H379.60M34.80 211.80H40.20M385 211.80H379.60M34.80 202.89H40.20M385 202.89H379.60M34.80 193.98H45.00M385 193.98H374.80M34.80 185.07H40.20M385 185.07H379.60M34.80 176.16H40.20M385 176.16H379.60M34.80 167.24H40.20M385 167.24H379.60M34.80 158.33H40.20M385 158.33H379.60M34.80 149.42H45.00M385 149.42H374.80M34.80 140.51H40.20M385 140.51H379.60M34.80 131.60H40.20M385 131.60H379.60M34.80 122.68H40.20M385 122.68H379.60M34.80 113.77H40.20M385 113.77H379.60M34.80 104.86H45.00M385 104.86H374.80M34.80 95.95H40.20M385 95.95H379.60M34.80 87.04H40.20M385 87.04H379.60M34.80 78.12H40.20M385 78.12H379.60M34.80 69.21H40.20M385 69.21H379.60M34.80 60.30H45.00M385 60.30H374.80M34.80 51.39H40.20M385 51.39H379.60M34.80 42.48H40.20M385 42.48H379.60M34.80 33.56H40.20M385 33.56H379.60M34.80 24.65H40.20M385 24.65H379.60M34.80 15.74H45.00M385 15.74H374.80M34.80 6.83H40.20M385 6.83H379.60"/>
</g>
<!-- axis labels -->
<g font-size="13" text-anchor="middle">
<text x="34.5" y="300" transform="matrix(1,0,0,1.05,0,-15)">-4</text>
<text x="78.1" y="300" transform="matrix(1,0,0,1.05,0,-15)">-3</text>
<text x="121.9" y="300" transform="matrix(1,0,0,1.05,0,-15)">-2</text>
<text x="165.7" y="300" transform="matrix(1,0,0,1.05,0,-15)">-1</text>
<text x="210.4" y="300" transform="matrix(1,0,0,1.05,0,-15)">0</text>
<text x="254.1" y="300" transform="matrix(1,0,0,1.05,0,-15)">1</text>
<text x="297.9" y="300" transform="matrix(1,0,0,1.05,0,-15)">2</text>
<text x="341.7" y="300" transform="matrix(1,0,0,1.05,0,-15)">3</text>
</g>
<g font-size="13" text-anchor="end">
<text x="29.5" y="288.3" transform="matrix(1,0,0,1.05,0,-14.415)">0</text>
<text x="29.5" y="243.5" transform="matrix(1,0,0,1.05,0,-12.175)">1</text>
<text x="29.5" y="198.9" transform="matrix(1,0,0,1.05,0,-9.945)">2</text>
<text x="29.5" y="154.4" transform="matrix(1,0,0,1.05,0,-7.720)">3</text>
<text x="29.5" y="109.8" transform="matrix(1,0,0,1.05,0,-5.490)">4</text>
<text x="29.5" y="65.3" transform="matrix(1,0,0,1.05,0,-3.265)">5</text>
<text x="29.5" y="20.7" transform="matrix(1,0,0,1.05,0,-1.035)">6</text>
</g>
<text x="381.8" y="300" font-size="9.5">4</text>
<text x="376.8" y="309.3" font-size="16.5">y</text>
<g fill="none" stroke="#222" stroke-width="1.1"><ellipse cx="6.5" cy="6.4" rx="3.2" ry="3.1"/><path d="M0 6.4H13.2"/></g>
<!-- header -->
<text x="48.6" y="24.7" font-size="14.1" font-weight="bold" font-style="italic" fill="#000">ATLAS</text>
<text x="100.8" y="25.2" font-size="13.5">Simulation</text>
<text x="48.1" y="40.9" font-size="13.5">Pythia8 (W’</text>
<text x="129.9" y="40.9" font-size="13.5">WZ</text>
<text x="173" y="40.9" font-size="13.5" textLength="36.6" lengthAdjust="spacingAndGlyphs">qqqq)</text>
<g stroke="#222" stroke-width="1.3" fill="#222"><path d="M118.5 37.1H127"/><path d="M156.8 37.1H165.5" /></g>
<path d="M129.8 37.1L126 34.8L126 39.4Z M168 37.1L164.3 34.6L164.3 39.6Z" fill="#222"/>
<text x="47.9" y="58.8" font-size="14.3">m</text>
<text x="59.3" y="59.6" font-size="8.5">W’</text>
<text x="74.6" y="58.8" font-size="13">=</text>
<text x="87.6" y="58.8" font-size="13">1</text>
<text x="97.8" y="58.8" font-size="13">TeV</text>
<!-- legend -->
<g font-size="13">
<text x="65.2" y="166.1" transform="matrix(1,0,0,1.035,0,-5.814)">anti-k<tspan font-size="7.5" dy="2" dx="1">t</tspan><tspan dy="-2" dx="-0.1"> R=1.0 jets</tspan></text>
<text x="65.2" y="181.6" transform="matrix(1,0,0,1.035,0,-6.356)">k<tspan font-size="7.5" dy="1.6" dx="-0.4">t</tspan></text><text x="75.8" y="181.6" transform="matrix(1,0,0,1.035,0,-6.356)" textLength="81.5" lengthAdjust="spacingAndGlyphs">R=0.3 subjets</text>
<text x="65.2" y="196.8" transform="matrix(1,0,0,1.035,0,-6.888)" textLength="109" lengthAdjust="spacingAndGlyphs">hard-scatter tracks</text>
<text x="65.2" y="211.8" transform="matrix(1,0,0,1.035,0,-7.413)" textLength="75" lengthAdjust="spacingAndGlyphs">pileup tracks</text>
<text x="65.2" y="227.6" transform="matrix(1,0,0,1.035,0,-7.966)">topo-clusters</text>
<text x="65.2" y="242.8" transform="matrix(1,0,0,1.035,0,-8.498)">truth Z boson</text>
<text x="65.2" y="258.2" transform="matrix(1,0,0,1.035,0,-9.037)">truth W boson</text>
</g>
<line x1="44" y1="161.2" x2="60.7" y2="161.2" stroke="#4f84c4" stroke-width="1.5"/>
<rect x="45" y="172.4" width="12.4" height="11.2" fill="#c8c8c8"/>
<circle cx="51" cy="192.5" r="2.6" fill="none" stroke="#111" stroke-width="1.2"/>
<path d="M48.4 205.6L53.8 211.2M53.8 205.6L48.4 211.2" stroke="#111" stroke-width="1.2"/>
<rect x="46.6" y="218.3" width="9.6" height="9.8" rx="1" fill="#fff" stroke="#333" stroke-width="1"/>
<rect x="48.1" y="222.2" width="2.1" height="4.8" fill="#3fe07a"/>
<rect x="52.7" y="219.8" width="2.6" height="2.4" fill="#1aa8f0"/>
<path d="M51.00,233.10L52.53,237.20L56.90,237.38L53.47,240.10L54.64,244.32L51.00,241.90L47.36,244.32L48.53,240.10L45.10,237.38L49.47,237.20Z" fill="#ff6a13"/>
<path d="M52.2 248L57.8 258.6L46.6 258.6Z" fill="#5a12d6"/>
</svg>
</body></html>
